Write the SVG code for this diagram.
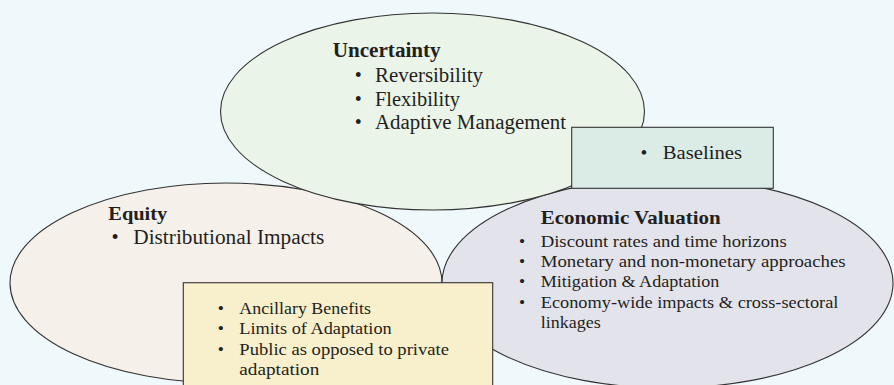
<svg xmlns="http://www.w3.org/2000/svg" width="894" height="385" viewBox="0 0 894 385">
  <style>
    .shape { stroke: #333333; stroke-width: 1.1; }
    .t { font-family: "Liberation Serif", "Times New Roman", serif; fill: #231f20; }
    .b { font-weight: bold; }
    .bul { font-family: "Liberation Serif", "Times New Roman", serif; fill: #231f20; text-anchor: middle; }
  </style>
  <rect x="0" y="0" width="894" height="385" fill="#eff8fb"/>

  <g id="equity">
    <ellipse class="shape" cx="226" cy="283" rx="216" ry="100" fill="#f5f0ea"/>
    <text class="t b" x="108.3" y="219.5" font-size="19.5" textLength="59" lengthAdjust="spacingAndGlyphs">Equity</text>
    <text class="bul" x="115" y="244" font-size="20.5">•</text>
    <text class="t" x="133.3" y="244" font-size="20.5" textLength="191" lengthAdjust="spacingAndGlyphs">Distributional Impacts</text>
  </g>

  <g id="economic-valuation">
    <ellipse class="shape" cx="667.5" cy="283" rx="225.5" ry="105" fill="#e3e3ec"/>
    <text class="t b" x="540.7" y="224.3" font-size="19.5" textLength="180" lengthAdjust="spacingAndGlyphs">Economic Valuation</text>
    <text class="bul" x="522" y="246.7" font-size="17.5">•</text>
    <text class="t" x="540.7" y="246.7" font-size="17.5" textLength="246" lengthAdjust="spacingAndGlyphs">Discount rates and time horizons</text>
    <text class="bul" x="522" y="266.9" font-size="17.5">•</text>
    <text class="t" x="540.7" y="266.9" font-size="17.5" textLength="305" lengthAdjust="spacingAndGlyphs">Monetary and non-monetary approaches</text>
    <text class="bul" x="522" y="287.3" font-size="17.5">•</text>
    <text class="t" x="540.7" y="287.3" font-size="17.5" textLength="178.7" lengthAdjust="spacingAndGlyphs">Mitigation &amp; Adaptation</text>
    <text class="bul" x="522" y="308" font-size="17.5">•</text>
    <text class="t" x="540.7" y="308" font-size="17.5" textLength="297.7" lengthAdjust="spacingAndGlyphs">Economy-wide impacts &amp; cross-sectoral</text>
    <text class="t" x="540.7" y="328.2" font-size="17.5" textLength="60" lengthAdjust="spacingAndGlyphs">linkages</text>
  </g>

  <g id="uncertainty">
    <ellipse class="shape" cx="432.5" cy="111.5" rx="212" ry="98.5" fill="#ebf4e8"/>
    <text class="t b" x="332.7" y="57.3" font-size="20" textLength="108" lengthAdjust="spacingAndGlyphs">Uncertainty</text>
    <text class="bul" x="358.3" y="82.3" font-size="20">•</text>
    <text class="t" x="375" y="82.3" font-size="20" textLength="108" lengthAdjust="spacingAndGlyphs">Reversibility</text>
    <text class="bul" x="358.3" y="105.5" font-size="20">•</text>
    <text class="t" x="375" y="105.5" font-size="20" textLength="85" lengthAdjust="spacingAndGlyphs">Flexibility</text>
    <text class="bul" x="358.3" y="129" font-size="20">•</text>
    <text class="t" x="375" y="129" font-size="20" textLength="191" lengthAdjust="spacingAndGlyphs">Adaptive Management</text>
  </g>

  <g id="baselines">
    <rect class="shape" x="571.7" y="127.3" width="201.6" height="61" fill="#dbebe6"/>
    <text class="bul" x="644" y="159.3" font-size="19.5">•</text>
    <text class="t" x="662.7" y="159.3" font-size="19.5" textLength="79.3" lengthAdjust="spacingAndGlyphs">Baselines</text>
  </g>

  <g id="shared-issues">
    <rect class="shape" x="183.3" y="282.7" width="309.4" height="110" fill="#f8efcc"/>
    <text class="bul" x="220.7" y="313.5" font-size="17.5">•</text>
    <text class="t" x="239.3" y="313.5" font-size="17.5" textLength="131.7" lengthAdjust="spacingAndGlyphs">Ancillary Benefits</text>
    <text class="bul" x="220.7" y="334" font-size="17.5">•</text>
    <text class="t" x="239.3" y="334" font-size="17.5" textLength="152.4" lengthAdjust="spacingAndGlyphs">Limits of Adaptation</text>
    <text class="bul" x="220.7" y="355" font-size="17.5">•</text>
    <text class="t" x="239.3" y="355" font-size="17.5" textLength="209.7" lengthAdjust="spacingAndGlyphs">Public as opposed to private</text>
    <text class="t" x="239.3" y="374.5" font-size="17.5" textLength="80" lengthAdjust="spacingAndGlyphs">adaptation</text>
  </g>

  <g id="connectors"></g>
</svg>
